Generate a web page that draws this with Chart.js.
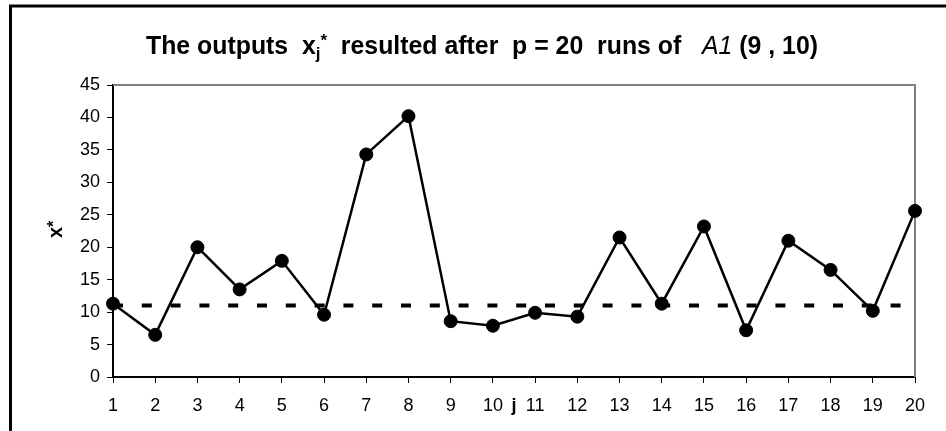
<!DOCTYPE html>
<html>
<head>
<meta charset="utf-8">
<script src="https://cdn.jsdelivr.net/npm/chart.js@4.4.1/dist/chart.umd.min.js"></script>
<style>
  html, body { margin: 0; padding: 0; background: #fff; }
  #wrap { width: 946px; height: 431px; position: relative; }
</style>
</head>
<body>
<div id="wrap"><canvas id="runsChart"></canvas></div>
<script>
// run index j = 1..20
const runLabels = ["1", "2", "3", "4", "5", "6", "7", "8", "9", "10",
  "11", "12", "13", "14", "15", "16", "17", "18", "19", "20"];

// outputs x_j*
const outputs = [11.3, 6.5, 20.0, 13.5, 17.9, 9.6, 34.3, 40.2, 8.6, 7.9,
  9.9, 9.3, 21.5, 11.3, 23.2, 7.2, 21.0, 16.5, 10.2, 25.6];

// dashed reference level
const refLine = [11, 11, 11, 11, 11, 11, 11, 11, 11, 11,
  11, 11, 11, 11, 11, 11, 11, 11, 11, 11];

const yTicks = [0, 5, 10, 15, 20, 25, 30, 35, 40, 45];

const FONT = "'Liberation Sans', Arial, sans-serif";

// frame, plot border and the odd bits of text Chart.js can't do on its own
const decorations = {
  id: "decorations",
  beforeDraw(chart) {
    const c = chart.ctx;
    c.save();
    c.strokeStyle = "#000";
    c.lineWidth = 3;
    c.beginPath();
    c.moveTo(10.5, 431);
    c.lineTo(10.5, 6);
    c.lineTo(946, 6);
    c.stroke();
    c.restore();
  },
  beforeDatasetsDraw(chart) {
    const a = chart.chartArea;
    const c = chart.ctx;
    c.save();
    c.strokeStyle = "#808080";
    c.lineWidth = 2;
    c.beginPath();
    c.moveTo(a.left, a.top);
    c.lineTo(a.right, a.top);
    c.lineTo(a.right, a.bottom);
    c.stroke();
    c.restore();
  },
  afterDraw(chart) {
    const c = chart.ctx;
    c.save();
    c.fillStyle = "#000";
    c.textBaseline = "alphabetic";

    // title, squeezed to the width it has in the picture
    const big = "bold 25px " + FONT, small = "bold 17px " + FONT, ital = "italic 25px " + FONT;
    const parts = [
      { t: "The outputs  x", f: big, dy: 0 },
      { t: "j", f: small, dy: 5 },
      { t: "*", f: small, dy: -8 },
      { t: "  resulted after  p = 20  runs of   ", f: big, dy: 0 },
      { t: "A1", f: ital, dy: 0 },
      { t: " (9 , 10)", f: big, dy: 0 }
    ];
    let total = 0;
    parts.forEach(p => { c.font = p.f; p.w = c.measureText(p.t).width; total += p.w; });
    const targetW = 672, sx = targetW / total;
    c.save();
    c.translate(482 - targetW / 2, 54);
    c.scale(sx, 1);
    let x = 0;
    parts.forEach(p => { c.font = p.f; c.fillText(p.t, x, p.dy); x += p.w; });
    c.restore();

    // y axis title x*
    c.save();
    c.translate(62, 238);
    c.rotate(-Math.PI / 2);
    c.font = "bold 20px " + FONT;
    c.fillText("x", 0, 0);
    const xw = c.measureText("x").width;
    c.font = "bold 16px " + FONT;
    c.fillText("*", xw, -3);
    c.restore();

    // x axis title j sits among the tick labels
    const xs = chart.scales.x;
    c.font = "bold 18px " + FONT;
    c.textAlign = "center";
    c.textBaseline = "middle";
    c.fillText("j", xs.getPixelForValue(9.5), 406);
    c.restore();
  }
};

const ctx = document.getElementById("runsChart").getContext("2d");
const runsChart = new Chart(ctx, {
  type: "line",
  data: {
    labels: runLabels,
    datasets: [
      {
        label: "x*",
        data: outputs,
        borderColor: "#000",
        borderWidth: 2.5,
        backgroundColor: "#000",
        pointRadius: 6.5,
        pointBorderWidth: 1,
        pointBorderColor: "#000",
        pointBackgroundColor: "#000",
        tension: 0,
        clip: false,
        order: 1
      },
      {
        label: "reference",
        data: refLine,
        borderColor: "#000",
        borderWidth: 4,
        borderDash: [10, 18.8],
        borderCapStyle: "butt",
        pointRadius: 0,
        fill: false,
        clip: false,
        order: 2
      }
    ]
  },
  options: {
    responsive: true,
    maintainAspectRatio: false,
    animation: false,
    layout: { padding: { left: 0, top: 85, right: 31, bottom: 0 } },
    plugins: {
      legend: { display: false },
      tooltip: { enabled: false },
      title: { display: false }
    },
    scales: {
      x: {
        type: "category",
        offset: false,
        grid: { display: true, drawOnChartArea: false, drawTicks: true, tickLength: 6, tickColor: "#000", tickWidth: 1 },
        border: { display: true, color: "#000", width: 2 },
        ticks: { color: "#000", font: { family: FONT, size: 18 }, padding: 12, maxRotation: 0, autoSkip: false },
        afterFit(scale) { scale.height = 54; }
      },
      y: {
        min: 0,
        max: 45,
        grid: { display: true, drawOnChartArea: false, drawTicks: true, tickLength: 6, tickColor: "#000", tickWidth: 1 },
        border: { display: true, color: "#000", width: 2 },
        afterBuildTicks(scale) { scale.ticks = yTicks.map(v => ({ value: v })); },
        ticks: { color: "#000", font: { family: FONT, size: 18 }, padding: 7 },
        afterFit(scale) { scale.width = 113; }
      }
    }
  },
  plugins: [decorations]
});
</script>
</body>
</html>
